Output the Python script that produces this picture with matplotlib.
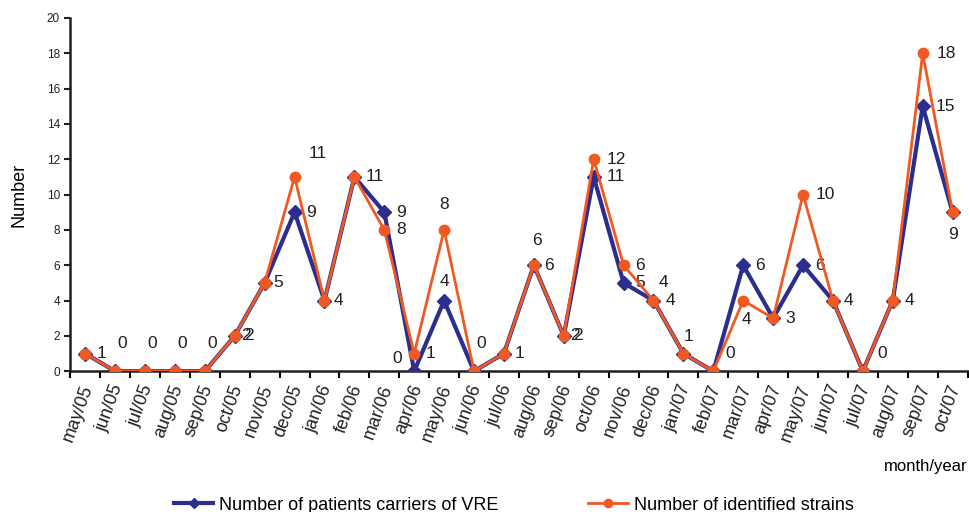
import numpy as np
import matplotlib.pyplot as plt
import matplotlib.transforms as mtransforms

plt.rcParams['font.family'] = ['Liberation Sans', 'DejaVu Sans']

months = ["may/05", "jun/05", "jul/05", "aug/05", "sep/05", "oct/05", "nov/05", "dec/05",
          "jan/06", "feb/06", "mar/06", "apr/06", "may/06", "jun/06", "jul/06", "aug/06",
          "sep/06", "oct/06", "nov/06", "dec/06", "jan/07", "feb/07", "mar/07", "apr/07",
          "may/07", "jun/07", "jul/07", "aug/07", "sep/07", "oct/07"]
patients = [1, 0, 0, 0, 0, 2, 5, 9, 4, 11, 9, 0, 4, 0, 1, 6, 2, 11, 5, 4, 1, 0, 6, 3, 6, 4, 0, 4, 15, 9]
strains = [1, 0, 0, 0, 0, 2, 5, 11, 4, 11, 8, 1, 8, 0, 1, 6, 2, 12, 6, 4, 1, 0, 4, 3, 10, 4, 0, 4, 18, 9]

# label offsets in points (dx, dy) for each point label
off_p = {0: (12, 0), 5: (10, 0), 6: (10, 0), 7: (12, 0), 8: (10, 0), 9: (15, 0), 10: (12, 0),
         11: (-12, 9), 12: (0, 14), 15: (11, 0), 16: (10, 0), 17: (16, 0), 18: (12, 0),
         19: (12, 0), 20: (4, 12), 22: (12, 0), 23: (12, 0), 24: (12, 0), 25: (11, 0),
         27: (12, 0), 28: (16, 0), 29: (0, -16)}
off_s = {1: (5, 20), 2: (5, 20), 3: (5, 20), 4: (5, 20), 5: (8, 0), 7: (17, 17),
         10: (12, 0), 11: (12, 0), 12: (0, 18), 13: (5, 20), 14: (11, 0), 15: (2, 18),
         16: (8, 0), 17: (16, 0), 18: (12, 0), 19: (7, 13), 21: (12, 13), 22: (2, -14),
         24: (16, 0), 26: (14, 13), 28: (17, 0)}

x = np.arange(len(months))
fig = plt.figure(figsize=(9.69, 5.12), dpi=100)
ax = fig.add_axes([0.0725, 0.275, 0.926, 0.69])

ax.plot(x, patients, color='#2B2E8C', lw=3, marker='D', ms=7, label='Number of patients carriers of VRE', zorder=3)
ax.plot(x, strains, color='#F05A22', lw=2, marker='o', ms=7.5, mec='#F05A22', label='Number of identified strains', zorder=4)

for i, (dx, dy) in off_p.items():
    ax.annotate(str(patients[i]), (x[i], patients[i]), xytext=(dx, dy), textcoords='offset points',
                ha='center', va='center', fontsize=12.5, color='#231F20')
for i, (dx, dy) in off_s.items():
    ax.annotate(str(strains[i]), (x[i], strains[i]), xytext=(dx, dy), textcoords='offset points',
                ha='center', va='center', fontsize=12.5, color='#231F20')

ax.set_xlim(-0.5, len(months) - 0.5)
ax.set_ylim(0, 20)
ax.set_yticks(range(0, 21, 2))
ax.tick_params(axis='y', labelsize=8.5, length=4, width=1.5, direction='out', colors='#231F20')
ax.set_xticks(x)
ax.set_xticklabels(months, rotation=70, ha='right', fontsize=13, color='#231F20')
ax.tick_params(axis='x', length=0, pad=8)
off = mtransforms.ScaledTranslation(8 / 72, 0, fig.dpi_scale_trans)
for lab in ax.get_xticklabels():
    lab.set_transform(lab.get_transform() + off)
ax.set_xticks(np.arange(-0.5, len(months), 1), minor=True)
ax.tick_params(axis='x', which='minor', length=5, width=1.5, direction='out')

for s in ['top', 'right']:
    ax.spines[s].set_visible(False)
for s in ['left', 'bottom']:
    ax.spines[s].set_linewidth(1.8)
    ax.spines[s].set_color('#231F20')

ax.set_ylabel('Number', fontsize=13, labelpad=14)
fig.text(0.998, 0.088, 'month/year', ha='right', va='center', fontsize=12)
fig.legend(loc='lower center', bbox_to_anchor=(0.53, -0.035), ncol=2, frameon=False,
           fontsize=13, columnspacing=5, handlelength=2.2, handletextpad=0.3, markerscale=0.8)

fig.savefig('out.png', dpi=100)
